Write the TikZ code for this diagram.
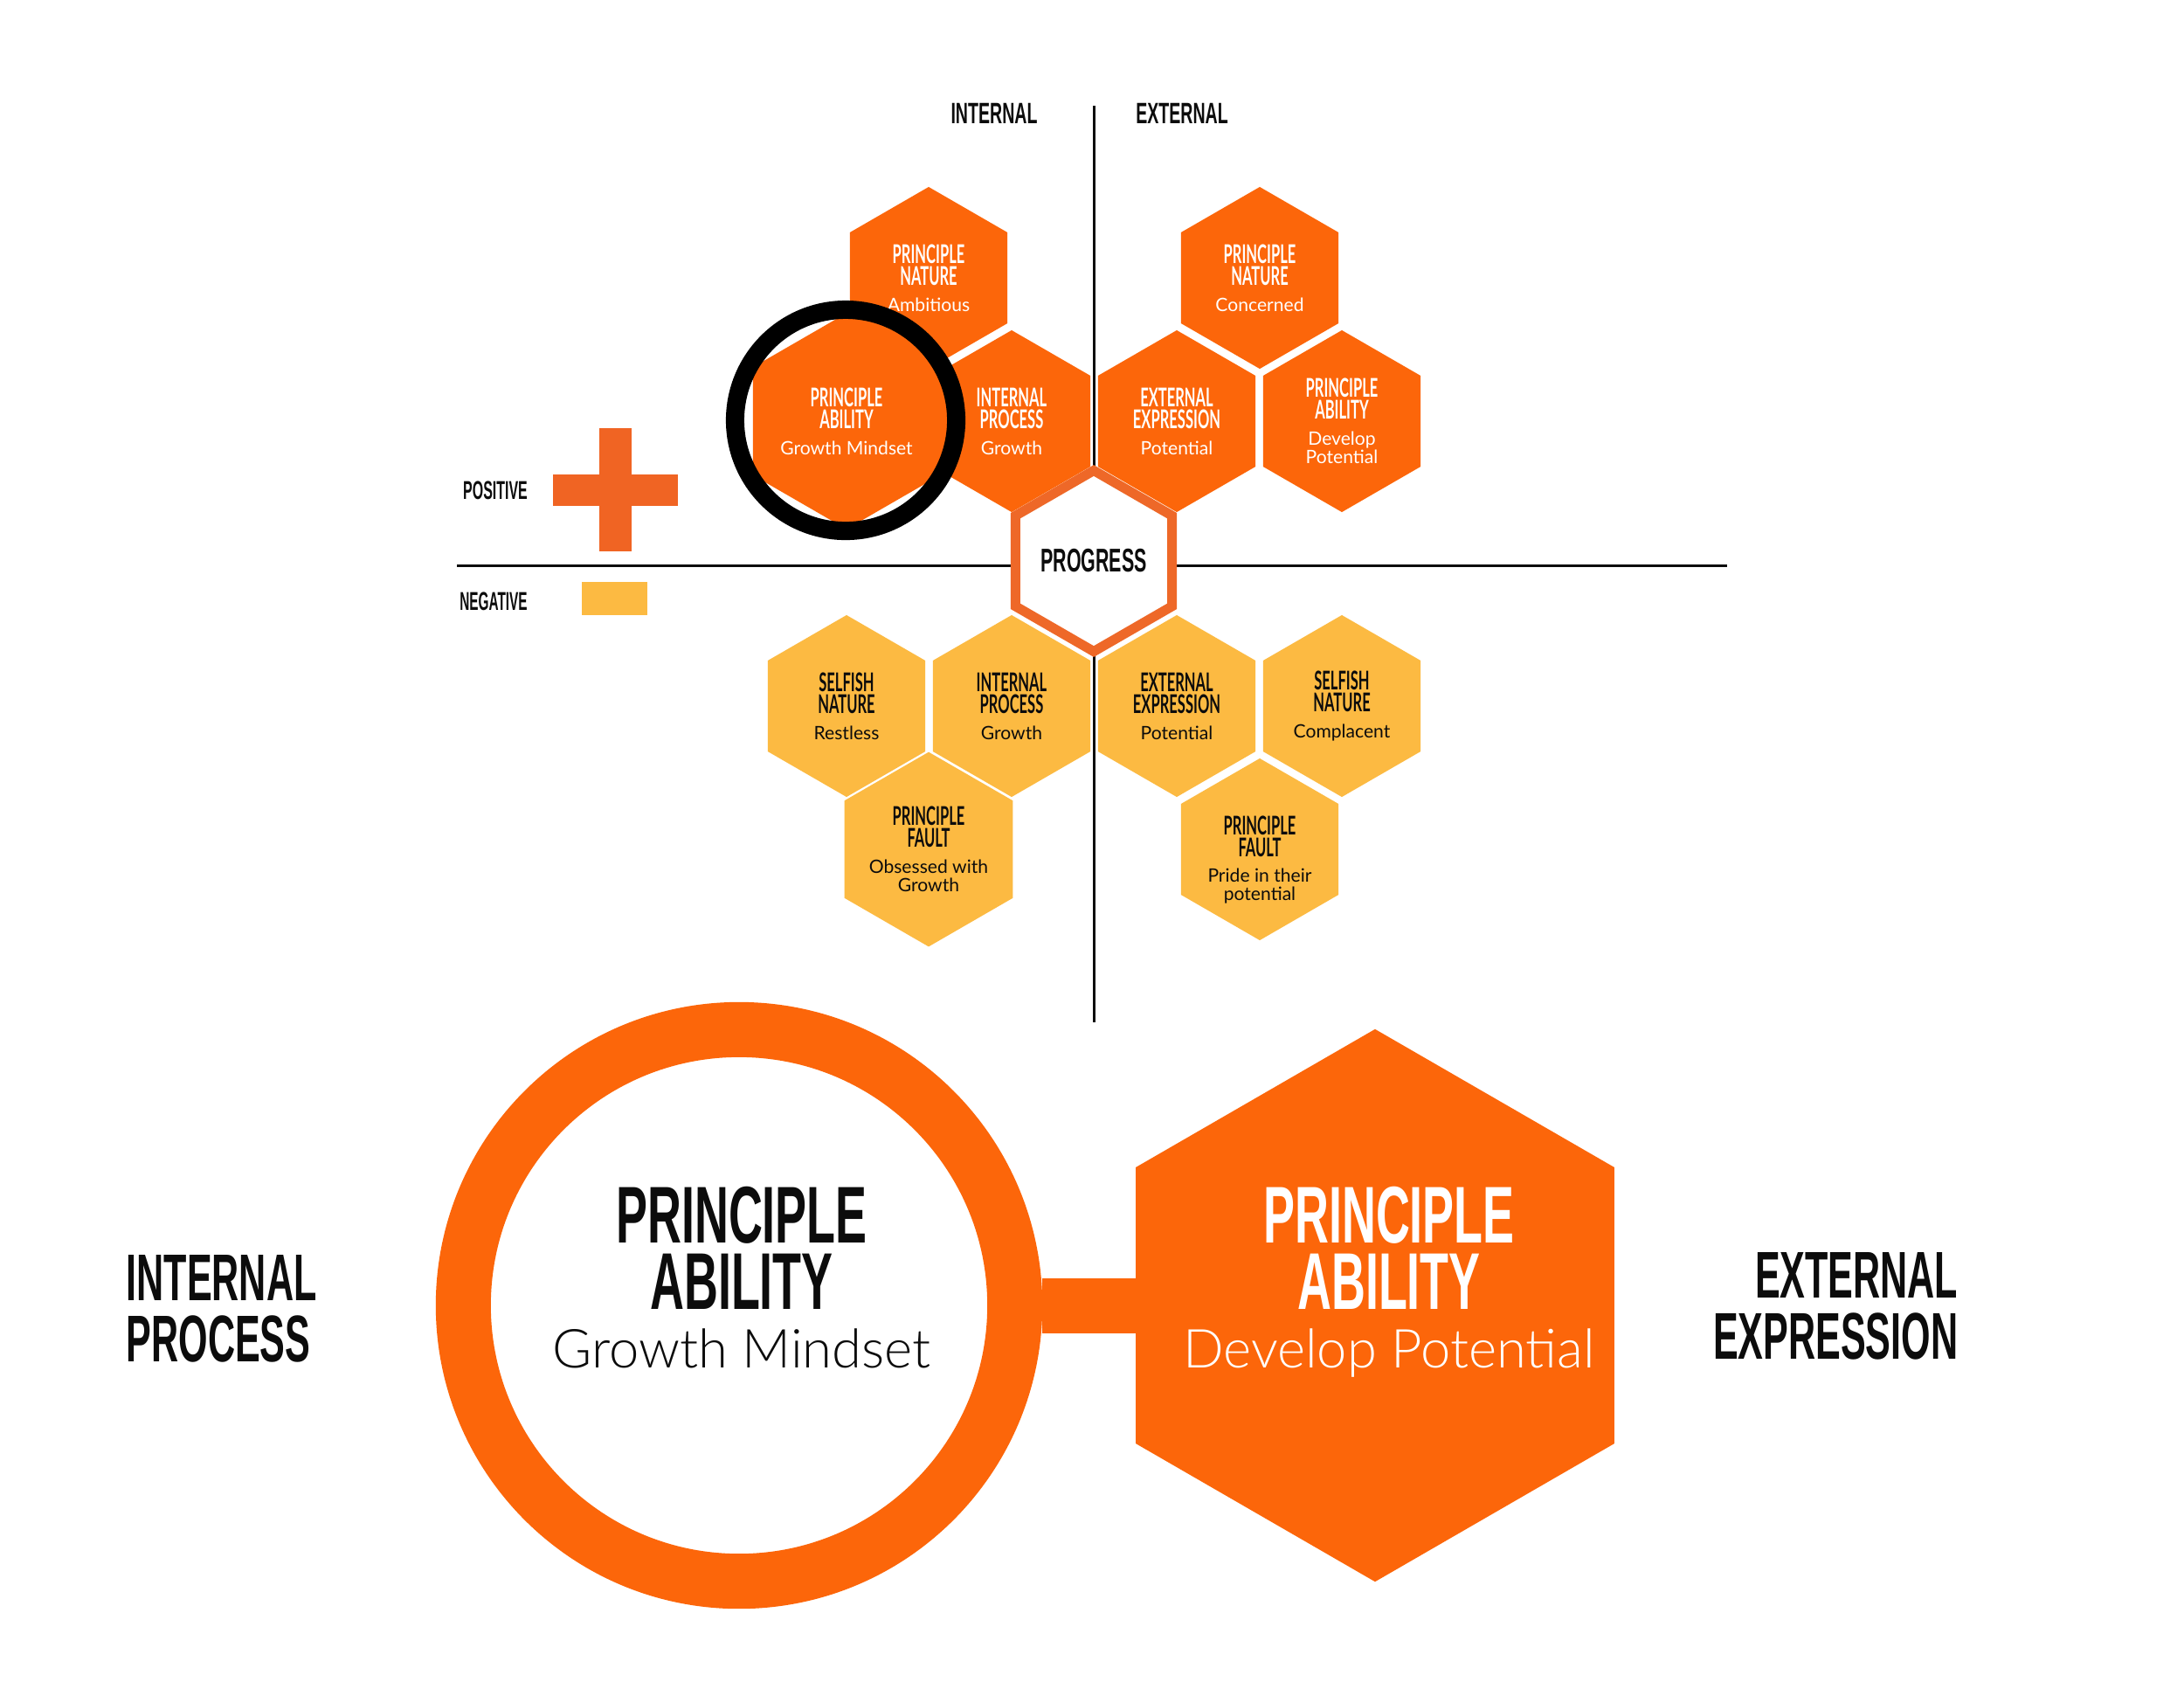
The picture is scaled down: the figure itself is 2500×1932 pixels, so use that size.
\documentclass[tikz,border=0pt]{standalone}
\usepackage{fontspec}
\usepackage{graphicx}
\setmainfont{Liberation Sans}
\newfontfamily\latofont{Lato}
\newfontfamily\latolight{Lato Light}
\usetikzlibrary{shapes.geometric}
\definecolor{hexor}{RGB}{252,102,10}
\definecolor{hexye}{RGB}{252,186,66}
\definecolor{plusor}{RGB}{240,100,35}
\definecolor{progor}{RGB}{238,104,40}
\definecolor{ink}{RGB}{12,12,12}
\newcommand\hb[1]{\scalebox{0.56}[1]{\fontsize{8.4}{8.4}\selectfont\bfseries #1}}
\newcommand\hs[1]{{\latofont\fontsize{6}{7}\selectfont #1}}
\newcommand\cnd[3]{\scalebox{#1}[1]{\fontsize{#2}{#2}\selectfont\bfseries #3}}
\begin{document}
\begin{tikzpicture}[x=0.01cm,y=-0.01cm,
  hexbase/.style={regular polygon, regular polygon sides=6, shape border rotate=30,
     minimum size=2.08cm, inner sep=0pt, outer sep=0pt, align=center,
     font=\latofont\fontsize{6}{7.1}\selectfont},
  hexo/.style={hexbase, fill=hexor, text=white},
  hexy/.style={hexbase, fill=hexye, text=ink},
  axis/.style={draw=ink, line width=0.85pt},
  lbl/.style={text=ink, inner sep=0pt, align=center},
  bigtxt/.style={lbl, font=\fontsize{26}{21.6}\selectfont},
  sidetxt/.style={lbl, font=\fontsize{21.5}{19.9}\selectfont}
]
\useasboundingbox (0,0) rectangle (2500,1932);
\fill[white] (0,0) rectangle (2500,1932);

% axes
\coordinate (vtop) at (1252,121);
\coordinate (vbot) at (1252,1170);
\coordinate (hleft) at (523,647);
\coordinate (hright) at (1977,647);
\draw[axis] (vtop) -- (vbot);
\draw[axis] (hleft) -- (hright);

% top labels
\node[lbl] (tint) at (1138,130) {\cnd{0.58}{9.6}{INTERNAL}};
\node[lbl] (text) at (1353,130) {\cnd{0.58}{9.6}{EXTERNAL}};

% legend
\node[lbl] (pos) at (567,561) {\cnd{0.54}{8.4}{POSITIVE}};
\node[lbl] (neg) at (565,688) {\cnd{0.52}{8.4}{NEGATIVE}};
\node[fill=plusor, inner sep=0pt, minimum width=0.37cm, minimum height=1.41cm] (plusv) at (704.5,560.5) {};
\node[fill=plusor, inner sep=0pt, minimum width=1.43cm, minimum height=0.36cm] (plush) at (704.5,561) {};
\node[fill=hexye, inner sep=0pt, minimum width=0.75cm, minimum height=0.38cm] (minus) at (703.5,685) {};

% positive hexes
\node[hexo] (pn1) at (1063,318) {\hb{PRINCIPLE}\\\hb{NATURE}\\[1.4pt]\hs{Ambitious}};
\node[hexo] (pa1) at (969,482) {\hb{PRINCIPLE}\\\hb{ABILITY}\\[1.4pt]\hs{Growth Mindset}};
\node[hexo] (ip1) at (1158,482) {\hb{INTERNAL}\\\hb{PROCESS}\\[1.4pt]\hs{Growth}};
\node[hexo] (ee1) at (1347,482) {\hb{EXTERNAL}\\\hb{EXPRESSION}\\[1.4pt]\hs{Potential}};
\node[hexo] (pa2) at (1536,482) {\hb{PRINCIPLE}\\\hb{ABILITY}\\[1.4pt]\hs{Develop}\\[-1.1pt]\hs{Potential}};
\node[hexo] (pn2) at (1442,318) {\hb{PRINCIPLE}\\\hb{NATURE}\\[1.4pt]\hs{Concerned}};

% progress
\node[regular polygon, regular polygon sides=6, shape border rotate=30,
      minimum size=2.07cm, inner sep=0pt, draw=progor, line width=0.11cm, fill=white,
      text=ink] (prog) at (1252,642) {\cnd{0.57}{10.7}{PROGRESS}};

% negative hexes
\node[hexy] (sn1) at (969,808) {\hb{SELFISH}\\\hb{NATURE}\\[1.4pt]\hs{Restless}};
\node[hexy] (ip2) at (1158,808) {\hb{INTERNAL}\\\hb{PROCESS}\\[1.4pt]\hs{Growth}};
\node[hexy] (ee2) at (1347,808) {\hb{EXTERNAL}\\\hb{EXPRESSION}\\[1.4pt]\hs{Potential}};
\node[hexy] (sn2) at (1536,808) {\hb{SELFISH}\\\hb{NATURE}\\[1.4pt]\hs{Complacent}};
\node[hexy] (pf1) at (1063,972) {\hb{PRINCIPLE}\\\hb{FAULT}\\[1.4pt]\hs{Obsessed with}\\[-1.1pt]\hs{Growth}};
\node[hexy] (pf2) at (1442,972) {};
\node[lbl, font=\latofont\fontsize{6}{7.1}\selectfont] (pf2t) at (1442,984) {\hb{PRINCIPLE}\\\hb{FAULT}\\[1.4pt]\hs{Pride in their}\\[-1.1pt]\hs{potential}};

% highlight ring
\node[circle, draw=black, line width=0.21cm, minimum size=2.53cm, inner sep=0pt] (mark) at (968,481) {};

% bottom section
\node[circle, draw=hexor, line width=0.63cm, minimum size=6.31cm, inner sep=0pt] (ring) at (846,1494) {};
\node[regular polygon, regular polygon sides=6, shape border rotate=30,
      minimum size=6.32cm, inner sep=0pt, outer sep=0pt, fill=hexor] (bighex) at (1574,1494) {};
\draw[hexor, line width=0.63cm] (ring.east) -- (bighex.west);

\node[bigtxt, anchor=north] (ringtxt) at (849,1357) {\cnd{0.585}{26.2}{PRINCIPLE}\\\cnd{0.585}{26.2}{ABILITY}\\[-2.3pt]{\latolight\fontsize{17.5}{17.5}\selectfont Growth Mindset}};
\node[bigtxt, anchor=north, text=white] (hextxt) at (1590,1357) {\cnd{0.585}{26.2}{PRINCIPLE}\\\cnd{0.585}{26.2}{ABILITY}\\[-2.3pt]{\latolight\fontsize{17.5}{17.5}\selectfont Develop Potential}};

\node[sidetxt, anchor=north west, align=left] (intp) at (144,1436) {\cnd{0.57}{21.5}{INTERNAL}\\\cnd{0.57}{21.5}{PROCESS}};
\node[sidetxt, anchor=north east, align=right] (extp) at (2242,1433) {\cnd{0.57}{21.5}{EXTERNAL}\\\cnd{0.57}{21.5}{EXPRESSION}};
\end{tikzpicture}
\end{document}
